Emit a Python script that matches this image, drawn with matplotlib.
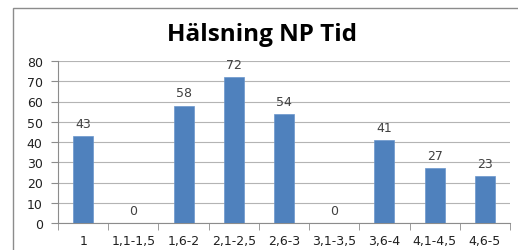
import matplotlib
matplotlib.use("Agg")
import matplotlib.pyplot as plt
import numpy as np
from matplotlib.patches import Rectangle

# ---------------------------------------------------------
# Data
# ---------------------------------------------------------
categories = ["1", "1,1-1,5", "1,6-2", "2,1-2,5", "2,6-3", "3,1-3,5", "3,6-4", "4,1-4,5", "4,6-5"]
counts = [43, 0, 58, 72, 54, 0, 41, 27, 23]
title = "Hälsning NP Tid"

# ---------------------------------------------------------
# Figure
# ---------------------------------------------------------
fig = plt.figure(figsize=(5.18, 2.51), dpi=100)
fig.patch.set_facecolor("white")

# outer chart frame (cropped at right/bottom)
fig.patches.append(Rectangle((13 / 518, -0.05), 1.0, 1 - 9 / 251 + 0.05,
                             transform=fig.transFigure, fill=False,
                             edgecolor="#8c8c8c", linewidth=1.0))

ax = fig.add_axes([58 / 518, 1 - 224 / 251, (510 - 58) / 518, (224 - 62) / 251])

x = np.arange(len(categories))
ax.bar(x, counts, width=0.4, color="#4F81BD", edgecolor="#6a96cc", linewidth=0.5, zorder=3)

for xi, v in zip(x, counts):
    ax.text(xi, v + 3, str(v), ha="center", va="bottom", fontsize=9, color="#404040")

ax.set_xlim(-0.5, len(categories) - 0.5)
ax.set_ylim(0, 80)
ax.set_yticks(range(0, 81, 10))
ax.yaxis.grid(True, color="#b4b4b4", linewidth=0.8, zorder=0)
ax.set_axisbelow(True)

ax.set_xticks(x)
ax.set_xticklabels(categories, fontsize=9, color="#202020")
ax.set_xticks(np.arange(-0.5, len(categories)), minor=True)
ax.tick_params(axis="x", which="major", length=0, pad=8)
ax.tick_params(axis="x", which="minor", length=5, color="#8c8c8c")
ax.tick_params(axis="y", length=5, color="#8c8c8c", labelsize=9, labelcolor="#202020", pad=6)

for s in ["top", "right"]:
    ax.spines[s].set_visible(False)
ax.spines["left"].set_color("#8c8c8c")
ax.spines["bottom"].set_color("#8c8c8c")

fig.text(262 / 518, 1 - 35 / 251, title, ha="center", va="center",
         fontsize=17.5, fontweight="bold", family="Open Sans", color="#000000")

fig.savefig("out.png", dpi=100)
